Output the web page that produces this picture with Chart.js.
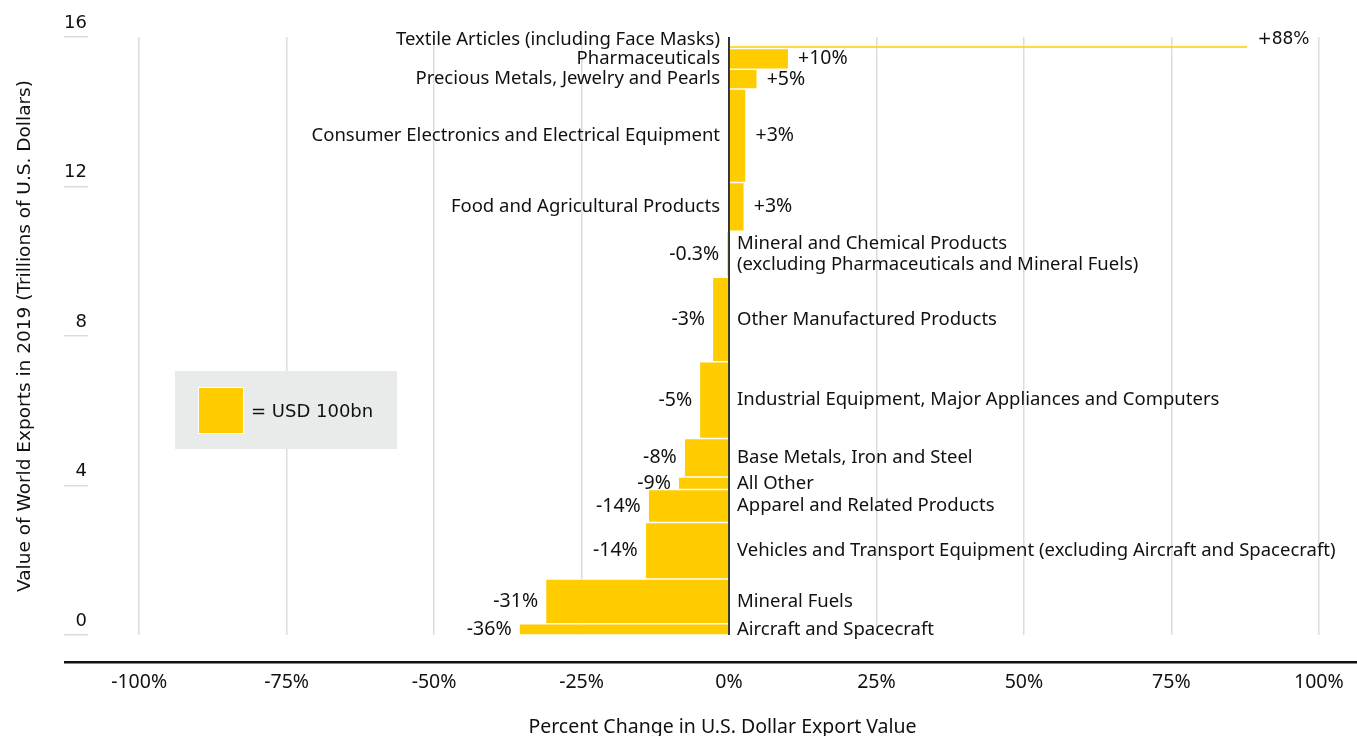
<!DOCTYPE html>
<html>
<head>
<meta charset="utf-8">
<script src="https://cdn.jsdelivr.net/npm/chart.js@4/dist/chart.umd.min.js"></script>
<style>
  body { margin: 0; background: #fff; }
  #wrap { position: relative; width: 1357px; height: 736px; }
  #key {
    position: absolute; left: 175px; top: 371px; width: 222px; height: 78px;
    background: #e9ebeb;
  }
  #key .sw {
    position: absolute; left: 23px; top: 16px; width: 44px; height: 45px;
    background: #ffcc00; border: 1px solid #fff;
  }
  #key .txt {
    position: absolute; left: 76px; top: 0;
    font: 18px "DejaVu Sans"; line-height: 80px; color: #111;
  }
</style>
</head>
<body>
<div id="wrap">
  <canvas id="chart" width="1357" height="736"></canvas>
  <div id="key"><div class="sw"></div><div class="txt">= USD 100bn</div></div>
</div>
<script>
// top to bottom, as stacked on the value axis
const categories = [
  "Textile Articles (including Face Masks)",
  "Pharmaceuticals",
  "Precious Metals, Jewelry and Pearls",
  "Consumer Electronics and Electrical Equipment",
  "Food and Agricultural Products",
  ["Mineral and Chemical Products", "(excluding Pharmaceuticals and Mineral Fuels)"],
  "Other Manufactured Products",
  "Industrial Equipment, Major Appliances and Computers",
  "Base Metals, Iron and Steel",
  "All Other",
  "Apparel and Related Products",
  "Vehicles and Transport Equipment (excluding Aircraft and Spacecraft)",
  "Mineral Fuels",
  "Aircraft and Spacecraft"
];
// world exports 2019, trillions USD
const exports2019 = [0.08, 0.55, 0.53, 2.50, 1.31, 1.23, 2.26, 2.05, 1.03, 0.34, 0.88, 1.51, 1.20, 0.30];
// percent change in USD export value
const pctChange = [87.9, 10.0, 4.7, 2.8, 2.5, -0.3, -2.7, -4.9, -7.5, -8.5, -13.6, -14.1, -31.0, -35.5];
const pctLabels = ["+88%", "+10%", "+5%", "+3%", "+3%", "-0.3%", "-3%", "-5%", "-8%", "-9%", "-14%", "-14%", "-31%", "-36%"];
const xTicks = [-100, -75, -50, -25, 0, 25, 50, 75, 100];
const yTicks = [0, 4, 8, 12, 16];

// bars whose thickness on the index axis comes from their own lo/hi values
class VarBarController extends Chart.BarController {
  _calculateBarIndexPixels(index) {
    const d = this.getDataset().data[index];
    const scale = this._cachedMeta.iScale;
    const a = scale.getPixelForValue(d.lo);
    const b = scale.getPixelForValue(d.hi);
    return { base: Math.min(a, b), head: Math.max(a, b), center: (a + b) / 2, size: Math.abs(a - b) };
  }
}
VarBarController.id = "varbar";
VarBarController.defaults = Chart.BarController.defaults;
VarBarController.overrides = Chart.BarController.overrides;
Chart.register(VarBarController);

// stack from the bottom (last category) upward
const rows = [];
let acc = 0;
for (let i = categories.length - 1; i >= 0; i--) {
  const lo = acc, hi = acc + exports2019[i];
  rows[i] = { x: pctChange[i], y: (lo + hi) / 2, lo: lo, hi: hi };
  acc = hi;
}

const YELLOW = "#ffcc00";
const TEXT = "#111";
Chart.defaults.font.family = '"Noto Sans", sans-serif';
Chart.defaults.color = TEXT;

const barLabels = {
  id: "barLabels",
  afterDatasetsDraw(chart) {
    const { ctx } = chart;
    const meta = chart.getDatasetMeta(0);
    const x0 = chart.scales.x.getPixelForValue(0);
    let prevTop = Infinity;
    ctx.save();
    ctx.fillStyle = TEXT;
    ctx.textBaseline = "middle";
    for (let i = meta.data.length - 1; i >= 0; i--) {
      const bar = meta.data[i];
      const lines = [].concat(categories[i]);
      const lh = 21;
      const half = (lines.length - 1) * lh / 2;
      const y = Math.min(bar.y, prevTop - 19 - half);
      prevTop = y - half;
      const pos = pctChange[i] >= 0;
      ctx.font = '18.5px "Noto Sans"';
      ctx.textAlign = pos ? "right" : "left";
      lines.forEach((t, k) => ctx.fillText(t, pos ? x0 - 9 : x0 + 8, y - half + k * lh));
      ctx.font = i === 0 ? '17px "DejaVu Sans"' : '19.5px "Noto Sans"';
      ctx.textAlign = pos ? "left" : "right";
      ctx.fillText(pctLabels[i], pos ? bar.x + 10 : bar.x - 8, y);
    }
    ctx.restore();
  },
  afterDraw(chart) {
    const { ctx, scales } = chart;
    const y = scales.x.top;
    ctx.save();
    ctx.fillStyle = "#111";
    ctx.fillRect(scales.y.right - scales.y.options.grid.tickLength, y - 1, chart.width, 2.5);
    ctx.restore();
  }
};

const xMin = -108.67, xMax = 106.47;

new Chart(document.getElementById("chart"), {
  type: "varbar",
  data: {
    datasets: [{
      data: rows,
      backgroundColor: YELLOW,
      borderColor: "#fff",
      borderWidth: { top: 0.75, bottom: 0.75, left: 0, right: 0 },
      borderSkipped: false,
      inflateAmount: 0
    }]
  },
  options: {
    indexAxis: "y",
    responsive: false,
    animation: false,
    devicePixelRatio: 1,
    layout: { padding: { top: 37, left: 0, right: 0, bottom: 0 } },
    plugins: { legend: { display: false }, tooltip: { enabled: false } },
    scales: {
      y: {
        type: "linear",
        position: "left",
        min: 0, max: 16,
        offset: false,
        afterBuildTicks: s => { s.ticks = yTicks.map(v => ({ value: v })); },
        afterFit: s => { s.width = 88; },
        grid: { offset: false, drawOnChartArea: false, drawTicks: true, tickLength: 24, color: "#dcdcdc", lineWidth: 1.5 },
        border: { display: false },
        ticks: { font: { family: "DejaVu Sans", size: 18 }, color: TEXT, padding: -23, labelOffset: -14, crossAlign: "near" },
        title: {
          display: true,
          text: "Value of World Exports in 2019 (Trillions of U.S. Dollars)",
          font: { family: "DejaVu Sans", size: 18.5 },
          color: TEXT,
          padding: { top: 14, bottom: 0 }
        }
      },
      x: {
        type: "linear",
        position: "bottom",
        weight: 2,
        min: xMin, max: xMax,
        afterBuildTicks: s => { s.ticks = xTicks.map(v => ({ value: v })); },
        afterFit: s => { s.height = 74; },
        grid: { drawTicks: false, color: c => (c.tick && c.tick.value === 0 ? "rgba(0,0,0,0)" : "#dcdcdc"), lineWidth: 1.5 },
        border: { display: false },
        ticks: { font: { size: 19.5 }, color: TEXT, padding: 9, callback: v => v + "%" },
        title: {
          display: true,
          text: "Percent Change in U.S. Dollar Export Value",
          font: { size: 19.5 },
          color: TEXT,
          padding: { top: 18, bottom: -3 }
        }
      },
      xGap: {
        type: "linear",
        position: "bottom",
        weight: 0,
        afterFit: s => { s.height = 27; },
        grid: { display: false },
        border: { display: false },
        ticks: { display: false }
      },
      xZero: {
        type: "linear",
        position: "top",
        min: xMin, max: xMax,
        z: 1,
        afterBuildTicks: s => { s.ticks = [{ value: 0 }]; },
        afterFit: s => { s.height = 0; },
        grid: { color: "#333", lineWidth: 2, drawTicks: false },
        border: { display: false },
        ticks: { display: false }
      }
    }
  },
  plugins: [barLabels]
});
</script>
</body>
</html>
